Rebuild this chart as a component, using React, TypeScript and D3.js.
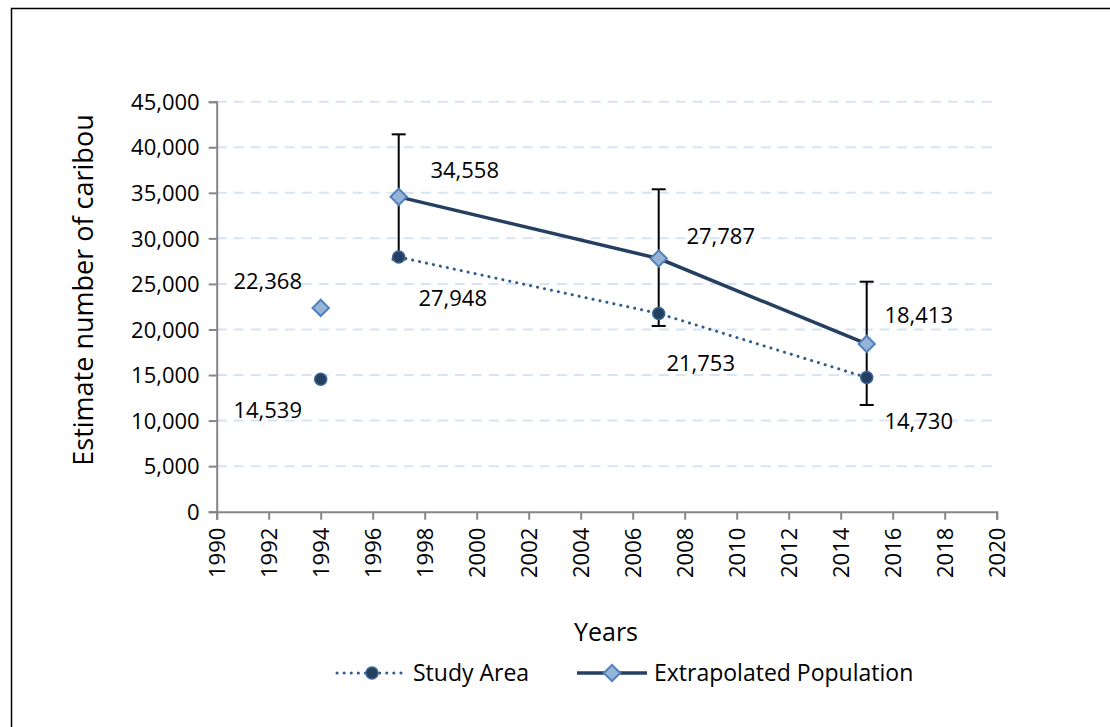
import React, { useEffect, useRef } from 'react'
import * as d3 from 'd3'

// data
const years = [1994, 1997, 2007, 2015]
const studyArea = [14539, 27948, 21753, 14730]
const extrapolated = [22368, 34558, 27787, 18413]
// error bars only on the extrapolated series (1997, 2007, 2015)
const errYears = [1997, 2007, 2015]
const errPlus = [6860, 7600, 6830]
const errMinus = [6860, 7400, 6700]

const yTicks = [0, 5000, 10000, 15000, 20000, 25000, 30000, 35000, 40000, 45000]
const xTicks = [1990, 1992, 1994, 1996, 1998, 2000, 2002, 2004, 2006, 2008, 2010, 2012, 2014, 2016, 2018, 2020]

// label offsets (px) from each point, like the excel labels
const studyLabelOff = [[-53, 31], [54, 41], [42, 50], [52, 44]]
const extraLabelOff = [[-53, -27], [66, -27], [62, -22], [52, -29]]

const W = 1110
const H = 727
const FONT = "'Open Sans', 'Liberation Sans', sans-serif"

export default function App() {
  const ref = useRef<SVGSVGElement>(null)

  useEffect(() => {
    const svg = d3.select(ref.current)
    svg.selectAll('*').remove()

    // outer frame (right / bottom edges cropped in the original)
    svg.append('rect')
      .attr('x', 11.5).attr('y', 8.5)
      .attr('width', 1300).attr('height', 900)
      .attr('fill', 'none').attr('stroke', '#000').attr('stroke-width', 1.5)

    const x = d3.scaleLinear().domain([1990, 2020]).range([216.7, 996.7])
    const y = d3.scaleLinear().domain([0, 45000]).range([511.7, 101.7])
    const fmt = d3.format(',')

    // gridlines
    svg.append('g').selectAll('line')
      .data(yTicks.filter(d => d > 0))
      .enter().append('line')
      .attr('x1', x(1990)).attr('x2', x(2020))
      .attr('y1', d => y(d)).attr('y2', d => y(d))
      .attr('stroke', '#D8E3F3').attr('stroke-width', 2)
      .attr('stroke-dasharray', '10,7')

    // y axis
    const yAxis = svg.append('g')
      .attr('transform', 'translate(' + x(1990) + ',0)')
      .call(d3.axisLeft(y).tickValues(yTicks).tickFormat(d => fmt(d as number)).tickSize(8).tickPadding(9))
    yAxis.select('.domain').attr('stroke', '#868686').attr('stroke-width', 2)
    yAxis.selectAll('.tick line').attr('stroke', '#868686').attr('stroke-width', 2)
    yAxis.selectAll('.tick text')
      .attr('font-family', FONT).attr('font-size', 22).attr('fill', '#000')
      .attr('dy', '0.35em')

    // x axis
    const xAxis = svg.append('g')
      .attr('transform', 'translate(0,' + y(0) + ')')
      .call(d3.axisBottom(x).tickValues(xTicks).tickFormat(d => String(d)).tickSize(8))
    xAxis.select('.domain').attr('stroke', '#868686').attr('stroke-width', 2)
    xAxis.selectAll('.tick line').attr('stroke', '#868686').attr('stroke-width', 2)
    xAxis.selectAll('.tick text')
      .attr('font-family', FONT).attr('font-size', 22).attr('fill', '#000')
      .attr('text-anchor', 'end')
      .attr('transform', 'rotate(-90)')
      .attr('x', -16).attr('y', 0).attr('dy', '0.35em')

    // axis titles
    svg.append('text')
      .attr('transform', 'translate(93,' + 290 + ') rotate(-90)')
      .attr('text-anchor', 'middle')
      .attr('font-family', FONT).attr('font-size', 27)
      .text('Estimate number of caribou')
    svg.append('text')
      .attr('x', 606).attr('y', 641)
      .attr('text-anchor', 'middle')
      .attr('font-family', FONT).attr('font-size', 25)
      .text('Years')

    // error bars
    const eb = svg.append('g')
    errYears.forEach((yr, i) => {
      const v = extrapolated[years.indexOf(yr)]
      const top = y(v + errPlus[i])
      const bot = y(v - errMinus[i])
      eb.append('line').attr('x1', x(yr)).attr('x2', x(yr)).attr('y1', top).attr('y2', bot)
        .attr('stroke', '#000').attr('stroke-width', 2)
      ;[top, bot].forEach(yy => {
        eb.append('line').attr('x1', x(yr) - 7).attr('x2', x(yr) + 7).attr('y1', yy).attr('y2', yy)
          .attr('stroke', '#000').attr('stroke-width', 2)
      })
    })

    // lines (1994 points are not joined)
    const line = d3.line<number>()
      .x((d, i) => x(years[i + 1]))
      .y(d => y(d))
    svg.append('path')
      .attr('d', line(studyArea.slice(1)))
      .attr('fill', 'none').attr('stroke', '#2F5C8F').attr('stroke-width', 3)
      .attr('stroke-linecap', 'round').attr('stroke-dasharray', '0.1,7')
    svg.append('path')
      .attr('d', line(extrapolated.slice(1)))
      .attr('fill', 'none').attr('stroke', '#243F60').attr('stroke-width', 3.5)

    // markers
    svg.append('g').selectAll('circle')
      .data(studyArea).enter().append('circle')
      .attr('cx', (d, i) => x(years[i])).attr('cy', d => y(d)).attr('r', 6)
      .attr('fill', '#243F60').attr('stroke', '#3A6596').attr('stroke-width', 1.5)
    const diamond = d3.symbol().type(d3.symbolDiamond2).size(170)
    svg.append('g').selectAll('path')
      .data(extrapolated).enter().append('path')
      .attr('d', diamond)
      .attr('transform', (d, i) => 'translate(' + x(years[i]) + ',' + y(d) + ')')
      .attr('fill', '#95B3D7').attr('stroke', '#4F81BD').attr('stroke-width', 2)

    // data labels
    const lbl = svg.append('g').attr('font-family', FONT).attr('font-size', 22)
      .attr('text-anchor', 'middle')
    studyArea.forEach((v, i) => {
      lbl.append('text')
        .attr('x', x(years[i]) + studyLabelOff[i][0])
        .attr('y', y(v) + studyLabelOff[i][1]).attr('dy', '0.35em')
        .text(fmt(v))
    })
    extrapolated.forEach((v, i) => {
      lbl.append('text')
        .attr('x', x(years[i]) + extraLabelOff[i][0])
        .attr('y', y(v) + extraLabelOff[i][1]).attr('dy', '0.35em')
        .text(fmt(v))
    })

    // legend
    const lg = svg.append('g').attr('transform', 'translate(0,673)')
    lg.append('line').attr('x1', 337).attr('x2', 406).attr('y1', 0).attr('y2', 0)
      .attr('stroke', '#2F5C8F').attr('stroke-width', 3)
      .attr('stroke-linecap', 'round').attr('stroke-dasharray', '0.1,7')
    lg.append('circle').attr('cx', 372).attr('cy', 0).attr('r', 6)
      .attr('fill', '#243F60').attr('stroke', '#3A6596').attr('stroke-width', 1.5)
    lg.append('text').attr('x', 413).attr('y', 0).attr('dy', '0.35em')
      .attr('font-family', FONT).attr('font-size', 23).text('Study Area')
    lg.append('line').attr('x1', 577).attr('x2', 647).attr('y1', 0).attr('y2', 0)
      .attr('stroke', '#243F60').attr('stroke-width', 3.5)
    lg.append('path').attr('d', diamond).attr('transform', 'translate(612,0)')
      .attr('fill', '#95B3D7').attr('stroke', '#4F81BD').attr('stroke-width', 2)
    lg.append('text').attr('x', 654).attr('y', 0).attr('dy', '0.35em')
      .attr('font-family', FONT).attr('font-size', 23).text('Extrapolated Population')
  }, [])

  return (
    <svg ref={ref} width={W} height={H}
      style={{ position: 'absolute', left: 0, top: 0, background: '#fff' }} />
  )
}
